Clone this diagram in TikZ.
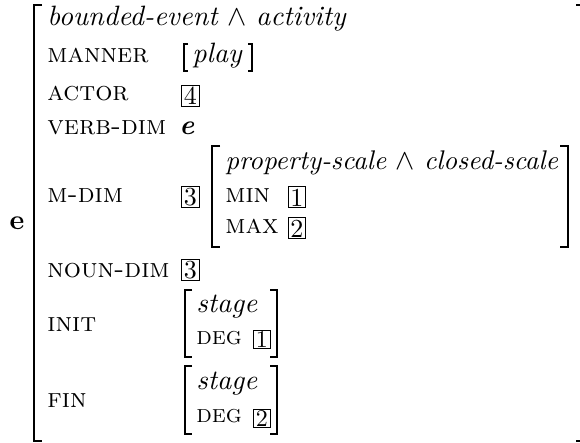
\documentclass[tikz,border=0pt]{standalone}
\usepackage{fontspec}
\setmainfont{lmroman10-regular.otf}[
  ItalicFont=lmroman10-italic.otf,
  BoldFont=lmroman10-bold.otf,
  BoldItalicFont=lmroman10-bolditalic.otf,
  SmallCapsFont=lmromancaps10-regular.otf]
\newcommand{\fsz}{\fontsize{14}{17}\selectfont}
\newcommand{\tfsz}{\fontsize{13}{15}\selectfont}
\tikzset{
  lbl/.style={anchor=base west, inner sep=0pt, font=\fontsize{13.5}{16}\selectfont\scshape},
  slbl/.style={anchor=base west, inner sep=0pt, font=\fontsize{12.5}{15}\selectfont\scshape},
  typ/.style={anchor=base west, inner sep=0pt, font=\fsz\itshape},
  tagbox/.style={draw, line width=0.5pt, inner sep=0pt, minimum width=8.8pt, minimum height=10.5pt, font=\tfsz},
  stagbox/.style={tagbox, minimum height=9pt, font=\fontsize{12}{14}\selectfont},
  bigbrk/.style={line width=1.2pt},
  midbrk/.style={line width=1pt},
  thinbrk/.style={line width=0.6pt}
}
\begin{document}
\begin{tikzpicture}[x=0.5pt,y=-0.5pt]
\useasboundingbox (0,0) rectangle (580,443);
% outer
\node[font=\fsz\bfseries, inner sep=0pt] (e) at (17,223) {e};
\draw[bigbrk] (42,5) -- (34,5) -- (34,441) -- (42,441);
\draw[bigbrk] (576,5) -- (581,5) -- (581,441) -- (576,441);
\node[typ] (t1) at (47,26) {bounded-event \upshape$\wedge$ \itshape activity};
\node[lbl] (manner) at (47,63) {manner};
\node[typ] (play) at (192,63) {play};
\draw[thinbrk] (188,44) -- (184,44) -- (184,71) -- (188,71);
\draw[thinbrk] (248,44) -- (252,44) -- (252,71) -- (248,71);
\node[lbl] (actor) at (47,101) {actor};
\node[tagbox] (b4) at (190.5,96) {4};
\node[lbl] (verbdim) at (47,135) {verb-dim};
\node[anchor=base west, inner sep=0pt, font=\fsz\bfseries\itshape] (ev) at (179,135) {e};
\node[lbl] (mdim) at (47,203) {m-dim};
\node[tagbox] (b3a) at (190.5,197.5) {3};
% inner m-dim avm
\draw[midbrk] (220,146) -- (212,146) -- (212,247) -- (220,247);
\draw[midbrk] (560,146) -- (568,146) -- (568,247) -- (560,247);
\node[typ, font=\fontsize{13.5}{16}\selectfont\itshape] (t2) at (225,170) {property-scale \upshape$\wedge$ \itshape closed-scale};
\node[lbl] (min) at (225,203) {min};
\node[tagbox] (b1a) at (297,197.5) {1};
\node[lbl] (max) at (225,234) {max};
\node[tagbox] (b2a) at (297,228.5) {2};
\node[lbl] (noundim) at (47,278) {noun-dim};
\node[tagbox] (b3b) at (190.5,270.5) {3};
% init
\node[lbl] (init) at (47,332) {init};
\draw[midbrk] (192,290) -- (185,290) -- (185,357) -- (192,357);
\draw[midbrk] (270,290) -- (277,290) -- (277,357) -- (270,357);
\node[typ] (s1) at (196,313) {stage};
\node[slbl] (deg1) at (196,345) {deg};
\node[stagbox] (b1b) at (262,340) {1};
% fin
\node[lbl] (fin) at (47,408) {fin};
\draw[midbrk] (192,366) -- (185,366) -- (185,434) -- (192,434);
\draw[midbrk] (270,366) -- (277,366) -- (277,434) -- (270,434);
\node[typ] (s2) at (196,390) {stage};
\node[slbl] (deg2) at (196,423) {deg};
\node[stagbox] (b2b) at (262,418.5) {2};
\end{tikzpicture}
\end{document}
